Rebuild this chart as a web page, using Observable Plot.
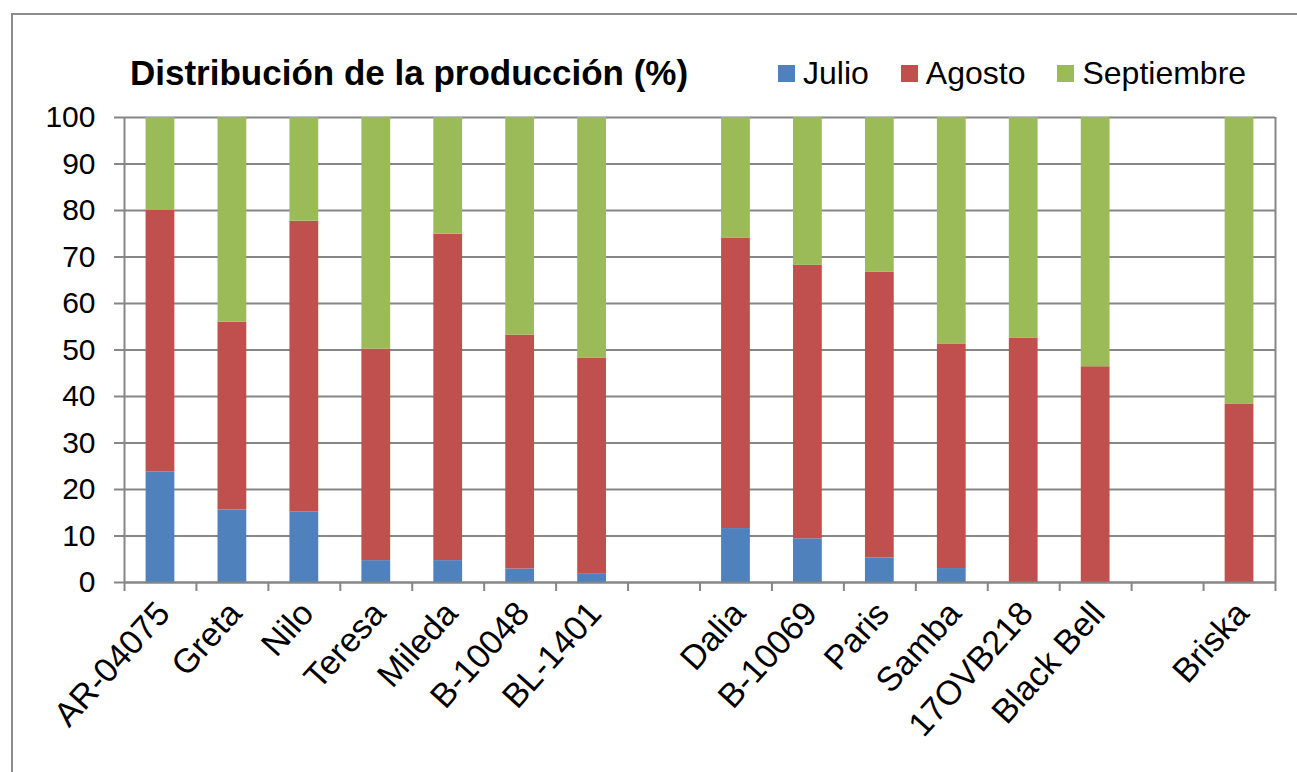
<!DOCTYPE html>
<html>
<head>
<meta charset="utf-8">
<script src="https://cdn.jsdelivr.net/npm/d3@7"></script>
<script src="https://cdn.jsdelivr.net/npm/@observablehq/plot@0.6"></script>
<style>
  html, body { margin: 0; padding: 0; background: #fff; }
  #wrap { position: relative; width: 1297px; height: 772px; overflow: hidden; font-family: "Liberation Sans", Arial, sans-serif; }
  #border { position: absolute; left: 11px; top: 13px; width: 1400px; height: 900px; border: 2px solid #8c8c8c; box-sizing: border-box; }
  #title { position: absolute; left: 130px; top: 55px; font-size: 35px; font-weight: bold; line-height: 1; white-space: nowrap; color: #000; }
  #legend { position: absolute; left: 778px; top: 57px; display: flex; align-items: center; font-size: 32px; line-height: 1; }
  .item { display: flex; align-items: center; margin-right: 32px; }
  .sw { width: 17px; height: 17px; margin-right: 8px; }
  svg { position: absolute; left: 0; top: 0; }
</style>
</head>
<body>
<div id="wrap">
  <div id="border"></div>
  <div id="title">Distribución de la producción (%)</div>
  <div id="legend"></div>
</div>
<script>
// ---- data ----
const categories = ["AR-04075", "Greta", "Nilo", "Teresa", "Mileda", "B-10048", "BL-1401", "", "Dalia", "B-10069", "Paris", "Samba", "17OVB218", "Black Bell", " ", "Briska"];
const months = ["Julio", "Agosto", "Septiembre"];
const julio      = [23.8, 15.6, 15.2, 4.7, 4.7, 2.9, 1.9, null, 11.6, 9.4, 5.3, 3.0, 0, 0, null, 0];
const agosto     = [56.2, 40.4, 62.5, 45.5, 70.2, 50.3, 46.3, null, 62.4, 58.8, 61.4, 48.3, 52.5, 46.4, null, 38.4];
const septiembre = [20.0, 44.0, 22.3, 49.8, 25.1, 46.8, 51.8, null, 26.0, 31.8, 33.3, 48.7, 47.5, 53.6, null, 61.6];
const colors = ["#4F81BD", "#C0504D", "#9BBB59"];
const yTicks = [0, 10, 20, 30, 40, 50, 60, 70, 80, 90, 100];

const series = [julio, agosto, septiembre];
const rows = [];
categories.forEach((c, i) => {
  months.forEach((m, j) => {
    if (series[j][i] != null) rows.push({category: c, month: m, value: series[j][i]});
  });
});

const W = 1297, H = 772;
const mL = 124, mR = 22, mT = 117, mB = 190;
const step = (W - mL - mR) / categories.length;
const gray = "#868686";
const font = "Liberation Sans, Arial, sans-serif";

const chart = Plot.plot({
  width: W,
  height: H,
  marginLeft: mL,
  marginRight: mR,
  marginTop: mT,
  marginBottom: mB,
  style: {fontFamily: font, background: "transparent", color: "#000"},
  x: {domain: categories, paddingInner: 0.6, paddingOuter: 0.3, round: false, label: null},
  y: {domain: [0, 100], label: null},
  color: {domain: months, range: colors},
  marks: [
    Plot.ruleY(yTicks, {stroke: gray, strokeWidth: 2}),
    Plot.barY(rows, {x: "category", y: "value", fill: "month", order: months}),
    Plot.ruleX([categories[0]], {dx: -step / 2, stroke: gray, strokeWidth: 2}),
    Plot.ruleX([categories[categories.length - 1]], {dx: step / 2, stroke: gray, strokeWidth: 2}),
    Plot.ruleY([0], {stroke: gray, strokeWidth: 2}),
    Plot.axisY({ticks: yTicks, tickSize: 10, tickPadding: 19, fontSize: 30, stroke: gray, strokeWidth: 2, fill: "#000", label: null}),
    Plot.axisX({tickSize: 9, dx: -step / 2, tickFormat: () => "", stroke: gray, strokeWidth: 2, label: null}),
    Plot.axisX({ticks: [categories[categories.length - 1]], tickSize: 9, dx: step / 2, tickFormat: () => "", stroke: gray, strokeWidth: 2, label: null}),
    Plot.axisX({tickSize: 0, tickRotate: -48, tickPadding: 25, dx: 3, fontSize: 34, fill: "#000", label: null})
  ]
});
document.getElementById("wrap").appendChild(chart);

// legend from the color scale
const cs = chart.scale("color");
const leg = document.getElementById("legend");
cs.domain.forEach((m, i) => {
  const it = document.createElement("div");
  it.className = "item";
  const sw = document.createElement("div");
  sw.className = "sw";
  sw.style.background = cs.range[i];
  const t = document.createElement("span");
  t.textContent = m;
  it.appendChild(sw);
  it.appendChild(t);
  leg.appendChild(it);
});
</script>
</body>
</html>
